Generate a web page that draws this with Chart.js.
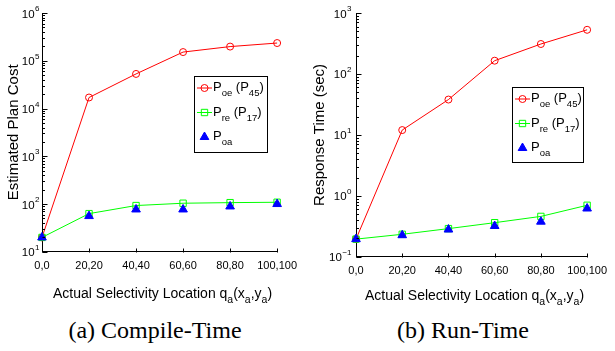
<!DOCTYPE html>
<html>
<head>
<meta charset="utf-8">
<script src="https://cdn.jsdelivr.net/npm/chart.js@4.4.0/dist/chart.umd.min.js"></script>
<style>
  html, body { margin: 0; padding: 0; background: #fff; }
  body { width: 615px; height: 351px; position: relative; overflow: hidden; }
  .box { position: absolute; top: 0; height: 310px; }
  .cap { position: absolute; top: 318px; width: 200px; text-align: center;
         font: 24px "Liberation Serif", "Times New Roman", serif; line-height: 24px; color: #000; }
</style>
</head>
<body>
<div class="box" style="left:0;width:305px"><canvas id="cost"></canvas></div>
<div class="box" style="left:305px;width:310px"><canvas id="time"></canvas></div>
<div class="cap" style="left:55px">(a) Compile-Time</div>
<div class="cap" style="left:363px">(b) Run-Time</div>
<script>
// actual selectivity locations q_a(x_a, y_a)
const locations = ['0,0', '20,20', '40,40', '60,60', '80,80', '100,100'];

// (a) estimated plan cost
const costOe = [20, 17000, 53000, 152000, 198000, 235000];
const costRe = [20, 63, 93, 104, 107, 109];
const costOa = [20, 56, 77, 77, 89, 100];
const costExponents = [1, 2, 3, 4, 5, 6];

// (b) response time in seconds
const timeOe = [0.195, 12, 38, 165, 310, 530];
const timeRe = [0.195, 0.234, 0.29, 0.363, 0.46, 0.70];
const timeOa = [0.195, 0.226, 0.28, 0.32, 0.377, 0.62];
const timeExponents = [-1, 0, 1, 2, 3];

const FONT = '"Liberation Sans", Arial, Helvetica, sans-serif';
const RED = '#ff0000', GREEN = '#00ff00', BLUE = '#0000ff';

const xTitle = [['Actual Selectivity Location q', 0], ['a', 1], ['(x', 0], ['a', 1], [',y', 0], ['a', 1], [')', 0]];
const legendRows = [
  { parts: [['P', 0], ['oe', 1], [' (P', 0], ['45', 1], [')', 0]], color: RED, style: 'circle', line: true },
  { parts: [['P', 0], ['re', 1], [' (P', 0], ['17', 1], [')', 0]], color: GREEN, style: 'rect', line: true },
  { parts: [['P', 0], ['oa', 1]], color: BLUE, style: 'triangle', line: false }
];

// draw text with subscript pieces, returns the width
function richText(ctx, parts, x, y, size, subSize, drop, measureOnly) {
  let w = 0;
  ctx.textAlign = 'left';
  ctx.textBaseline = 'alphabetic';
  for (const [t, sub] of parts) {
    ctx.font = (sub ? subSize : size) + 'px ' + FONT;
    if (!measureOnly) ctx.fillText(t, x + w, y + (sub ? drop : 0));
    w += ctx.measureText(t).width;
  }
  return w;
}

function line(ctx, x1, y1, x2, y2) {
  ctx.beginPath();
  ctx.moveTo(x1, y1);
  ctx.lineTo(x2, y2);
  ctx.stroke();
}

function decorPlugin(cfg) {
  return {
    id: 'decor',
    afterDraw(chart) {
      const ctx = chart.ctx;
      const area = chart.chartArea;
      const xs = chart.scales.x, ys = chart.scales.y;
      ctx.save();
      ctx.strokeStyle = '#000';
      ctx.fillStyle = '#000';
      ctx.lineWidth = 1;

      // inward tick marks
      const lx = Math.round(area.left) + 0.5;
      const e0 = cfg.exponents[0], e1 = cfg.exponents[cfg.exponents.length - 1];
      for (let e = e0; e <= e1; e++) {
        for (let m = 1; m < 10; m++) {
          if (e === e1 && m > 1) break;
          const py = Math.round(ys.getPixelForValue(m * Math.pow(10, e))) + 0.5;
          line(ctx, lx, py, lx + (m === 1 ? 5 : 2.5), py);
        }
      }
      const by = Math.round(area.bottom) + 0.5;
      locations.forEach((_, i) => {
        const px = Math.round(xs.getPixelForValue(i)) + 0.5;
        line(ctx, px, by, px, by - 4);
      });

      // y tick labels 10^n
      for (const e of cfg.exponents) {
        const py = ys.getPixelForValue(Math.pow(10, e));
        const sup = e < 0 ? '\u2212' + (-e) : String(e);
        ctx.font = '8px ' + FONT;
        const ws = ctx.measureText(sup).width;
        ctx.font = '11.5px ' + FONT;
        const wb = ctx.measureText('10').width;
        const x0 = area.left - cfg.tickGap - ws - wb;
        ctx.textAlign = 'left';
        ctx.textBaseline = 'alphabetic';
        ctx.fillText('10', x0, py + 4.5);
        ctx.font = '8px ' + FONT;
        ctx.fillText(sup, x0 + wb + 0.5, py - 2);
      }

      // y title
      ctx.save();
      ctx.translate(cfg.yTitleX, (area.top + area.bottom) / 2);
      ctx.rotate(-Math.PI / 2);
      ctx.font = '15px ' + FONT;
      ctx.textAlign = 'center';
      ctx.textBaseline = 'middle';
      ctx.fillText(cfg.yTitle, 0, 0);
      ctx.restore();

      // x title
      const tw = richText(ctx, xTitle, 0, 0, 14, 10.5, 5, true);
      const cx = (area.left + area.right) / 2 + 3;
      richText(ctx, xTitle, cx - tw / 2, cfg.xTitleY, 14, 10.5, 5, false);

      // legend box
      const bx = area.left + cfg.legend.dx, bt = cfg.legend.top;
      ctx.fillStyle = '#fff';
      ctx.fillRect(bx, bt, cfg.legend.w, cfg.legend.h);
      ctx.strokeRect(Math.round(bx) + 0.5, bt + 0.5, cfg.legend.w, cfg.legend.h);
      legendRows.forEach((row, i) => {
        const ry = bt + 12 + i * 24.5;
        ctx.strokeStyle = row.color;
        ctx.lineWidth = 1;
        if (row.line) line(ctx, bx + 3, ry, bx + 18, ry);
        const r = row.style === 'circle' ? 3.5 : row.style === 'rect' ? 4.5 : 5;
        ctx.fillStyle = row.style === 'triangle' ? row.color : 'rgba(0,0,0,0)';
        Chart.helpers.drawPoint(ctx, { pointStyle: row.style, radius: r, borderWidth: 1 }, bx + 10.5, ry);
        ctx.fillStyle = '#000';
        richText(ctx, row.parts, bx + 19, ry + 3, 13, 9.5, 5, false);
      });
      ctx.restore();
    }
  };
}

function makeChart(id, oe, re, oa, cfg) {
  return new Chart(document.getElementById(id), {
    type: 'line',
    data: {
      labels: locations,
      datasets: [
        {
          data: oe, borderColor: RED, borderWidth: 1, tension: 0, clip: false, order: 2,
          pointStyle: 'circle', pointRadius: 3.5, pointBorderWidth: 1,
          pointBorderColor: RED, pointBackgroundColor: 'rgba(0,0,0,0)'
        },
        {
          data: re, borderColor: GREEN, borderWidth: 1, tension: 0, clip: false, order: 1,
          pointStyle: 'rect', pointRadius: 4.5, pointBorderWidth: 1,
          pointBorderColor: GREEN, pointBackgroundColor: 'rgba(0,0,0,0)'
        },
        {
          data: oa, showLine: false, clip: false, order: 0,
          pointStyle: 'triangle', pointRadius: 5, pointBorderWidth: 1,
          pointBorderColor: BLUE, pointBackgroundColor: BLUE
        }
      ]
    },
    options: {
      responsive: true,
      maintainAspectRatio: false,
      animation: false,
      events: [],
      layout: { padding: cfg.padding },
      plugins: { legend: { display: false }, tooltip: { enabled: false } },
      scales: {
        x: {
          type: 'category',
          offset: false,
          grid: { display: false, drawTicks: false },
          border: { color: '#000', width: 1 },
          ticks: { color: '#000', font: { family: FONT, size: 11 }, padding: 8, maxRotation: 0, autoSkip: false }
        },
        y: {
          type: 'logarithmic',
          min: Math.pow(10, cfg.exponents[0]),
          max: Math.pow(10, cfg.exponents[cfg.exponents.length - 1]),
          grid: { display: false, drawTicks: false },
          border: { color: '#000', width: 1 },
          ticks: { display: false }
        }
      }
    },
    plugins: [decorPlugin(cfg)]
  });
}

makeChart('cost', costOe, costRe, costOa, {
  exponents: costExponents,
  padding: { left: 42, right: 24, top: 13, bottom: 29 },
  yTitle: 'Estimated Plan Cost', yTitleX: 14, tickGap: 3, xTitleY: 298,
  legend: { dx: 152, top: 76, w: 73, h: 76 }
});

makeChart('time', timeOe, timeRe, timeOa, {
  exponents: timeExponents,
  padding: { left: 51, right: 24, top: 13, bottom: 24 },
  yTitle: 'Response Time (sec)', yTitleX: 15, tickGap: 5, xTitleY: 300,
  legend: { dx: 156, top: 87, w: 71, h: 75 }
});
</script>
</body>
</html>
